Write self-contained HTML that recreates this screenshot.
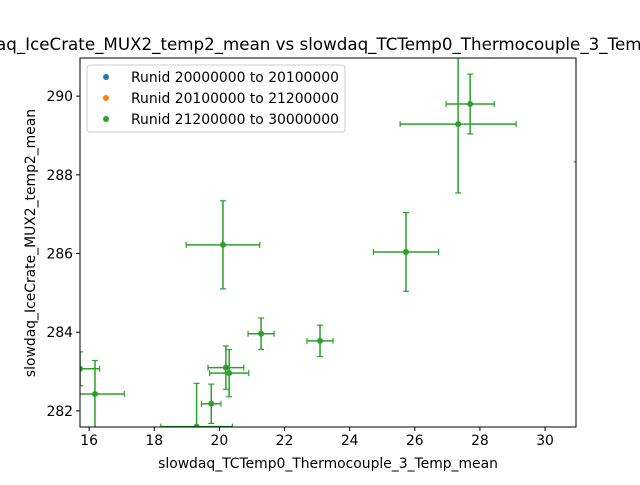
<!DOCTYPE html>
<html><head><meta charset="utf-8"><style>body{margin:0;background:#fff}svg{font-family:"DejaVu Sans","Liberation Sans",sans-serif}</style></head>
<body>
<svg id="c" width="640" height="480"></svg>
<script>
const xs   = [15.72, 16.18, 19.3, 19.75, 20.2, 20.3, 20.11, 21.28, 23.09, 25.73, 27.33, 27.7, 30.97];
const ys   = [283.07, 282.43, 281.6, 282.18, 283.1, 282.96, 286.22, 283.96, 283.78, 286.04, 289.29, 289.8, 291.03];
const xerr = [0.6, 0.9, 1.1, 0.3, 0.55, 0.6, 1.13, 0.4, 0.4, 1.0, 1.78, 0.74, 2.7];
const yerr = [0.43, 0.85, 1.1, 0.5, 0.55, 0.6, 1.12, 0.4, 0.4, 1.0, 1.75, 0.76, 2.7];
const xticks = [16, 18, 20, 22, 24, 26, 28, 30];
const yticks = [282, 284, 286, 288, 290];
const X0=80,X1=576,Y0=58,Y1=427, xmin=15.72,xmax=30.95,ymin=281.59,ymax=290.97;
const sx=v=>X0+(v-xmin)/(xmax-xmin)*(X1-X0), sy=v=>Y1-(v-ymin)/(ymax-ymin)*(Y1-Y0);
const svg=document.getElementById('c'),NS='http://www.w3.org/2000/svg';
function el(t,a,p){const e=document.createElementNS(NS,t);for(const k in a)e.setAttribute(k,a[k]);(p||svg).appendChild(e);return e;}
const defs=el('defs',{});const cp=el('clipPath',{id:'cl'},defs);el('rect',{x:X0,y:Y0,width:X1-X0,height:Y1-Y0},cp);
const g=el('g',{'clip-path':'url(#cl)'});


const C='#2ca02c';
xs.forEach((x,i)=>{
 const px=sx(x),py=sy(ys[i]),l=sx(x-xerr[i]),r=sx(x+xerr[i]),t=sy(ys[i]+yerr[i]),b=sy(ys[i]-yerr[i]);
 const pg=el('g',{},g);
 
 
 el('line',{x1:l,x2:r,y1:py,y2:py,stroke:C,'stroke-width':1.5},pg);
 el('line',{x1:px,x2:px,y1:t,y2:b,stroke:C,'stroke-width':1.5},pg);
 [[l,py,0],[r,py,0],[px,t,1],[px,b,1]].forEach(([a,c,h])=>el('line',h?{x1:a-3,x2:a+3,y1:c,y2:c,stroke:C,'stroke-width':1.2}:{x1:a,x2:a,y1:c-3,y2:c+3,stroke:C,'stroke-width':1.2},pg));
 el('circle',{cx:px,cy:py,r:3,fill:C},pg);
});
el('rect',{x:X0,y:Y0,width:X1-X0,height:Y1-Y0,fill:'none',stroke:'#000','stroke-width':1});
xticks.forEach(v=>{const x=sx(v);el('line',{x1:x,x2:x,y1:Y1,y2:Y1+4,stroke:'#000'});const t=el('text',{x:x,y:Y1+18,'font-size':13.9,'text-anchor':'middle'});t.textContent=v;

});
yticks.forEach(v=>{const y=sy(v);el('line',{x1:X0-4,x2:X0,y1:y,y2:y,stroke:'#000'});const t=el('text',{x:X0-7,y:y+5,'font-size':13.9,'text-anchor':'end'});t.textContent=v;

});
let t=el('text',{x:328,y:468,'font-size':13.9,'text-anchor':'middle'});t.textContent='slowdaq_TCTemp0_Thermocouple_3_Temp_mean';


t=el('text',{x:0,y:0,'font-size':13.9,'text-anchor':'middle',transform:'translate(35,243) rotate(-90)'});t.textContent='slowdaq_IceCrate_MUX2_temp2_mean';


t=el('text',{x:328,y:50,'font-size':16.7,'text-anchor':'middle'});t.textContent='slowdaq_IceCrate_MUX2_temp2_mean vs slowdaq_TCTemp0_Thermocouple_3_Temp_mean';


const lg=el('g',{});


el('rect',{x:87,y:65,width:258,height:67,rx:3,fill:'#fff','fill-opacity':0.8,stroke:'#ccc'},lg);
[['#1f77b4','Runid 20000000 to 20100000'],['#ff7f0e','Runid 20100000 to 21200000'],['#2ca02c','Runid 21200000 to 30000000']].forEach(([c,s],i)=>{
 const y=77+i*21;el('circle',{cx:106,cy:y,r:3,fill:c},lg);const tt=el('text',{x:131,y:y+5,'font-size':13.9},lg);tt.textContent=s;
 
 
});
</script>
</body></html>
